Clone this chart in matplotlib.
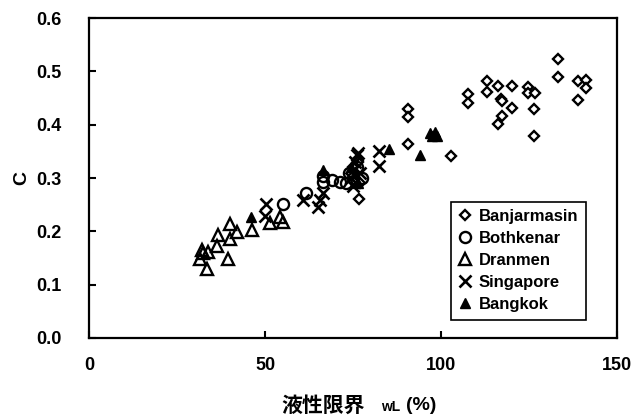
import numpy as np
import matplotlib
matplotlib.use("Agg")
import matplotlib.pyplot as plt

plt.rcParams['font.family'] = ['Liberation Sans', 'Noto Sans CJK JP']

# liquid limit wL (%) and C
banj_x = [133.3, 133.3, 139.0, 141.2, 141.2, 139.0, 113.2, 113.2, 116.1, 120.1,
          117.0, 117.2, 120.1, 124.6, 124.6, 126.7, 126.5, 126.5, 117.4, 116.3,
          107.6, 107.6, 90.7, 90.7, 90.7, 102.8, 76.8, 75.0, 76.5, 77.0]
banj_y = [0.524, 0.490, 0.481, 0.484, 0.468, 0.447, 0.482, 0.462, 0.473, 0.473,
          0.449, 0.445, 0.432, 0.470, 0.459, 0.459, 0.429, 0.379, 0.416, 0.401,
          0.457, 0.441, 0.429, 0.415, 0.363, 0.342, 0.260, 0.320, 0.330, 0.290]

both_x = [55.2, 61.6, 66.6, 71.3, 66.6, 68.9, 74.0, 76.0, 77.5, 73.0, 75.0]
both_y = [0.251, 0.271, 0.293, 0.293, 0.303, 0.296, 0.310, 0.320, 0.300, 0.290, 0.300]

dran_x = [40.1, 42.0, 36.7, 40.1, 36.3, 32.0, 33.9, 31.5, 33.4, 39.6,
          46.2, 51.4, 55.2, 54.3, 32.5]
dran_y = [0.214, 0.198, 0.193, 0.185, 0.172, 0.165, 0.162, 0.148, 0.129, 0.149,
          0.203, 0.215, 0.218, 0.227, 0.160]

sing_x = [82.4, 82.4, 76.0, 50.3, 50.0, 60.9, 65.6, 65.1, 66.6, 76.5,
          75.5, 74.5, 75.0, 77.0]
sing_y = [0.351, 0.323, 0.344, 0.251, 0.228, 0.259, 0.259, 0.246, 0.271, 0.346,
          0.330, 0.300, 0.285, 0.310]

bang_x = [46.0, 66.6, 85.2, 94.0, 96.9, 98.3, 98.8, 97.4, 75.5, 76.5, 74.5]
bang_y = [0.226, 0.315, 0.354, 0.344, 0.385, 0.387, 0.378, 0.378, 0.310, 0.290, 0.320]

fig = plt.figure(figsize=(6.37, 4.2), dpi=100)
ax = fig.add_axes([89 / 637, 1 - 338 / 420, 528 / 637, 320 / 420])

ax.plot(banj_x, banj_y, 'D', ms=5, mfc='white', mec='black', mew=1.7, ls='none', label='Banjarmasin')
ax.plot(both_x, both_y, 'o', ms=8, mfc='none', mec='black', mew=1.7, ls='none', label='Bothkenar')
ax.plot(dran_x, dran_y, '^', ms=9, mfc='none', mec='black', mew=1.7, ls='none', label='Dranmen')
ax.plot(sing_x, sing_y, 'x', ms=9, mec='black', mew=1.9, ls='none', label='Singapore')
ax.plot(bang_x, bang_y, '^', ms=7, mfc='black', mec='black', ls='none', label='Bangkok')

ax.set_xlim(0, 150)
ax.set_ylim(0, 0.6)
ax.set_xticks([0, 50, 100, 150])
ax.set_yticks(np.arange(0, 0.61, 0.1))
ax.set_yticklabels([f"{v:.1f}" for v in np.arange(0, 0.61, 0.1)])
ax.tick_params(direction='in', length=5, width=1.5, labelsize=13)
for lab in ax.get_xticklabels() + ax.get_yticklabels():
    lab.set_fontweight('bold')
ax.tick_params(axis='x', pad=14)
ax.tick_params(axis='y', pad=20)
for s in ax.spines.values():
    s.set_linewidth(1.6)

ax.set_ylabel('C', fontsize=14, fontweight='bold', labelpad=4)

# x label in pieces: Japanese text, small "wL", then unit
fig.text(323 / 637, 1 - 405 / 420, '液性限界', fontsize=15, fontweight='bold',
         family=['Noto Sans CJK JP', 'DejaVu Sans'], ha='center', va='center')
fig.text(391 / 637, 1 - 407 / 420, 'wL', fontsize=10, fontweight='bold', ha='center', va='center')
fig.text(421 / 637, 1 - 405 / 420, '(%)', fontsize=14, fontweight='bold', ha='center', va='center')

leg = ax.legend(loc='lower right', bbox_to_anchor=(0.947, 0.047), fancybox=False,
                edgecolor='black', framealpha=1, handlelength=0.8, handletextpad=0.4,
                labelspacing=0.42, borderpad=0.45, borderaxespad=0.2,
                prop={'size': 12, 'weight': 'bold'})
leg.get_frame().set_linewidth(1.2)

fig.savefig('out.png', dpi=100)
